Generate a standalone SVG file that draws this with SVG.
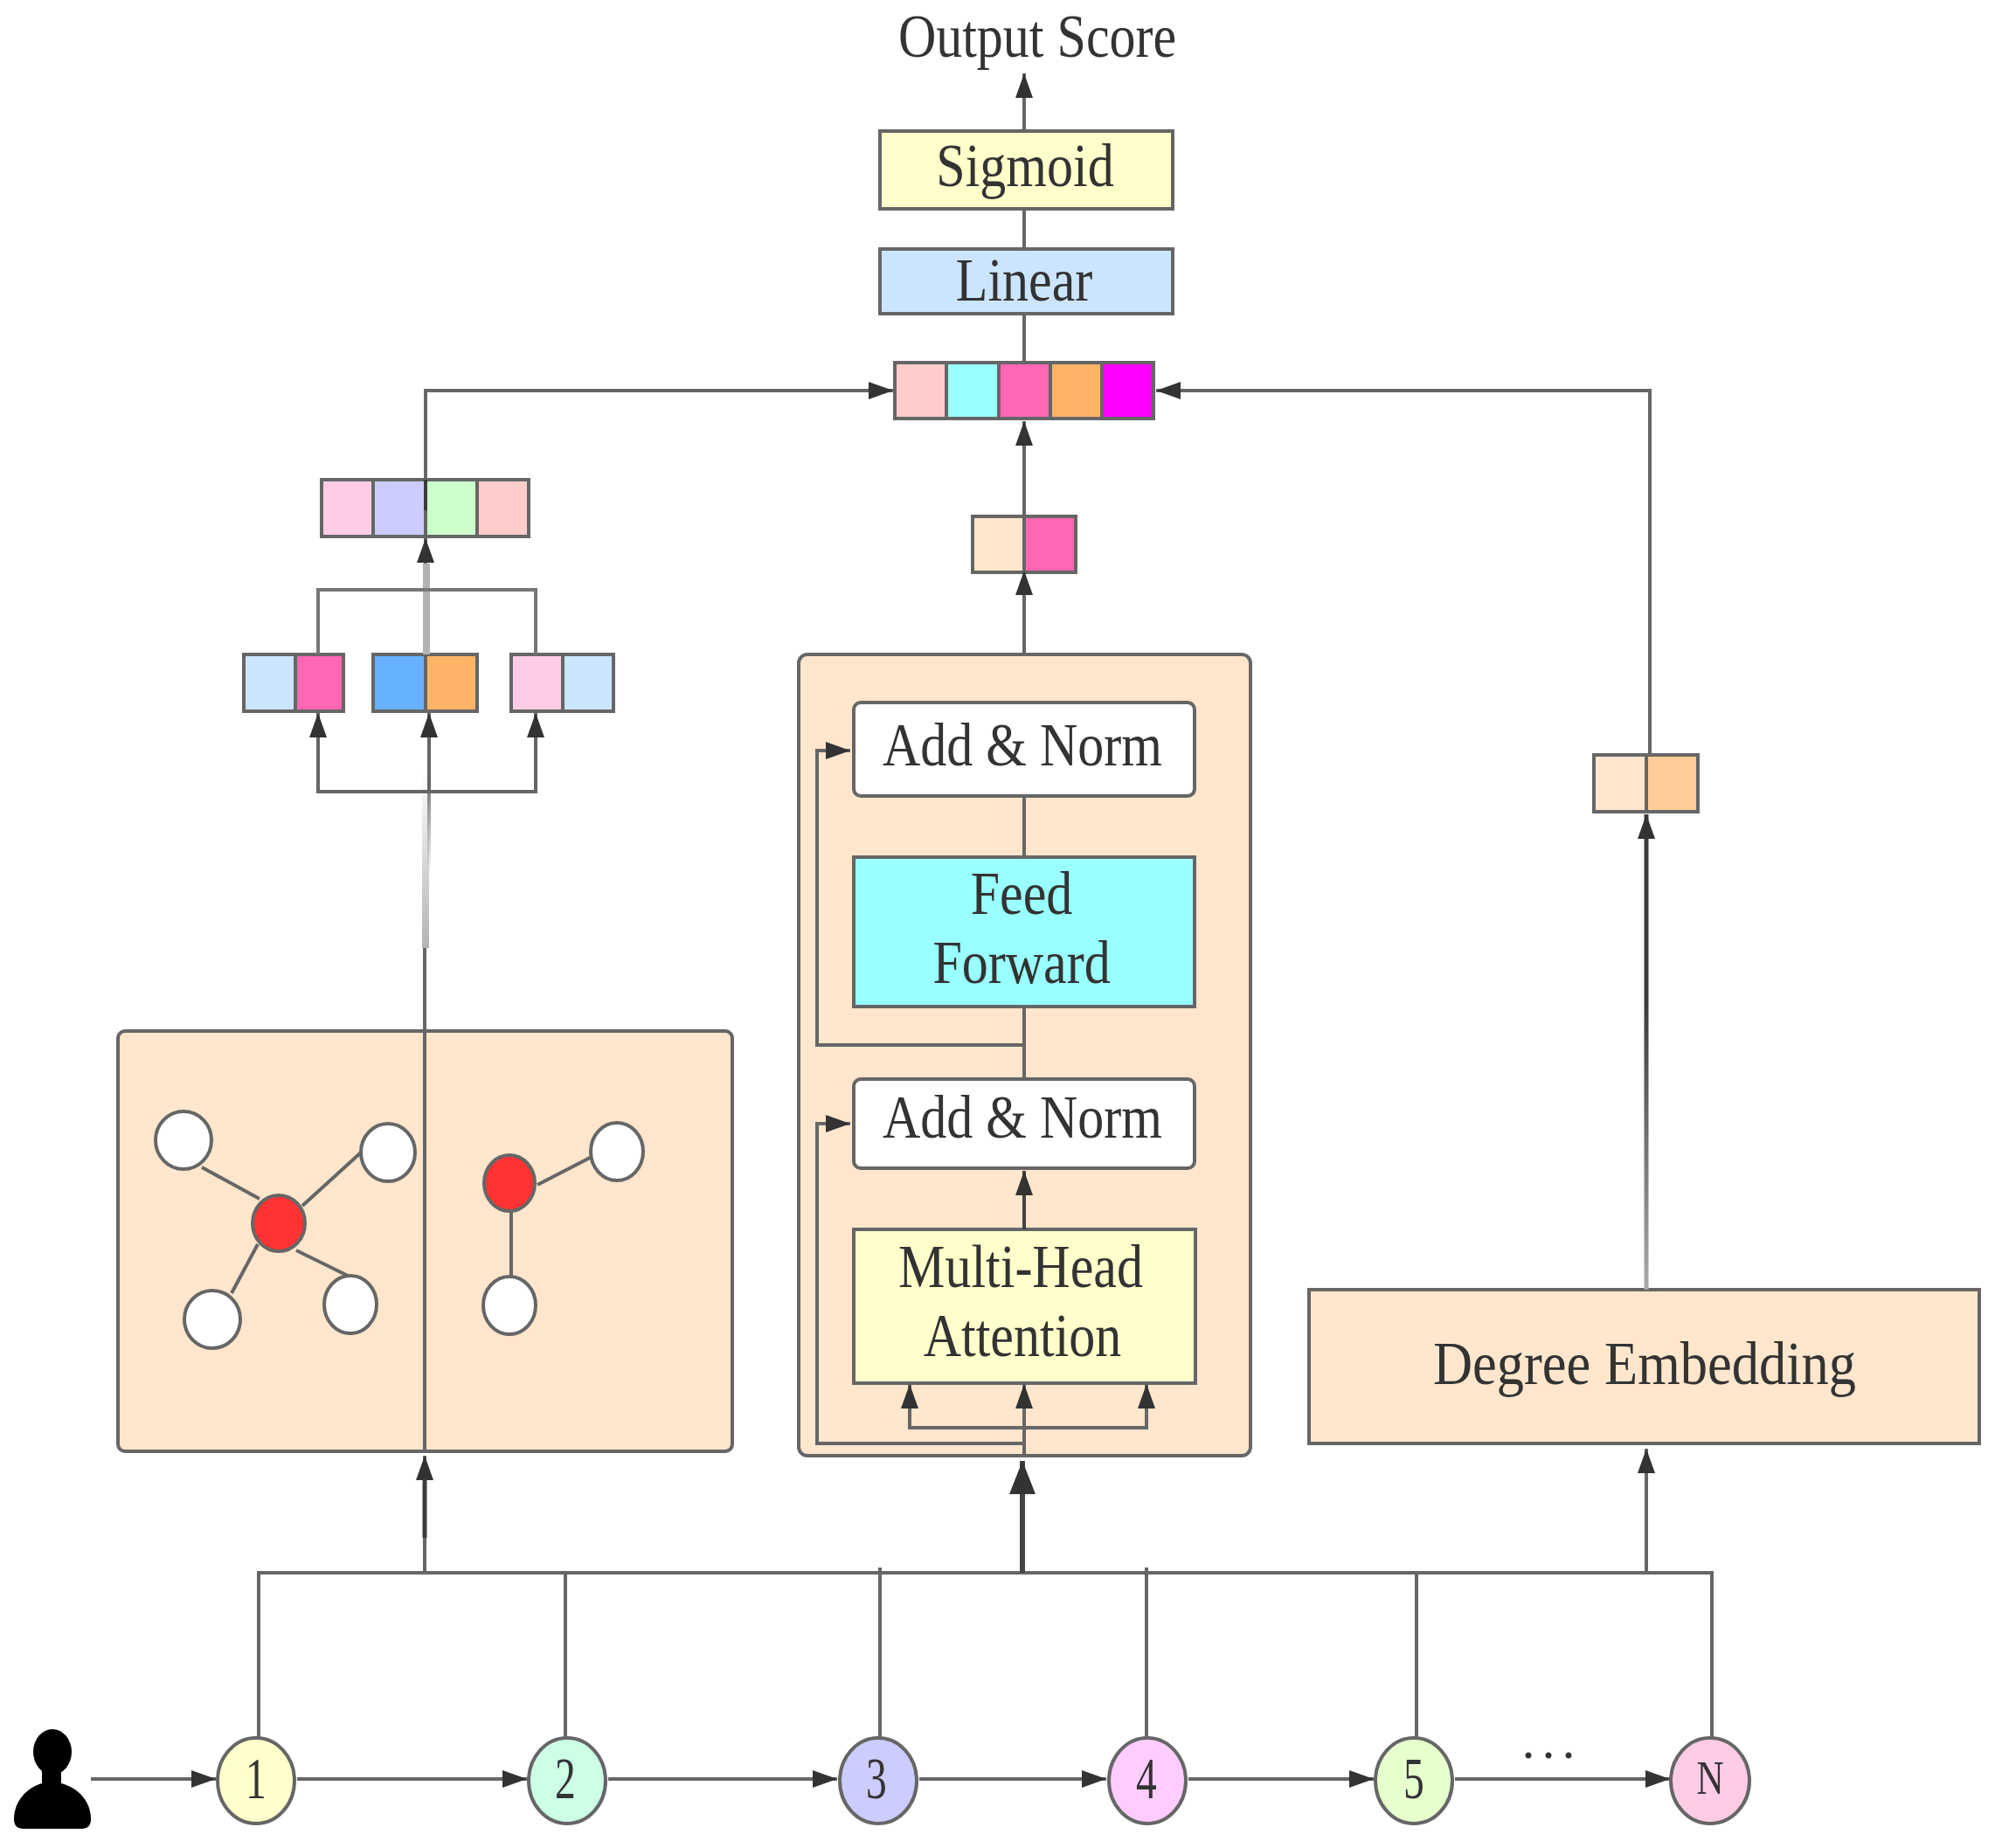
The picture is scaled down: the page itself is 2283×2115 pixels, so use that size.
<svg xmlns="http://www.w3.org/2000/svg" width="2283" height="2115" viewBox="0 0 2283 2115">
<style>
.b{stroke:#666;stroke-width:4}
.t{font-family:"Liberation Serif","Times New Roman",serif;font-size:60px;fill:#333;text-anchor:middle}
.d{font-family:"Liberation Serif","Times New Roman",serif;font-size:66px;fill:#333;text-anchor:middle}
.c{fill:none;stroke:#666;stroke-width:4}
.w{fill:#fff;stroke:#666;stroke-width:4}
.r{fill:#f33;stroke:#666;stroke-width:4}
</style>
<defs>
<marker id="a" markerUnits="userSpaceOnUse" markerWidth="30" markerHeight="22" refX="28" refY="11" orient="auto"><path d="M0 1L28 11L0 21Z" fill="#333"/></marker>
<marker id="big" markerUnits="userSpaceOnUse" markerWidth="40" markerHeight="32" refX="38" refY="16" orient="auto"><path d="M0 1L38 16L0 31Z" fill="#333"/></marker>
<linearGradient id="deg" gradientUnits="userSpaceOnUse" x1="0" y1="1476" x2="0" y2="1150"><stop offset="0" stop-color="#aaa"/><stop offset="1" stop-color="#3c3c3c"/></linearGradient>
<linearGradient id="fade1" gradientUnits="userSpaceOnUse" x1="0" y1="880" x2="0" y2="1085"><stop offset="0" stop-color="#b3b3b3" stop-opacity="0"/><stop offset="1" stop-color="#b3b3b3"/></linearGradient>
<linearGradient id="fade2" gradientUnits="userSpaceOnUse" x1="0" y1="880" x2="0" y2="1000"><stop offset="0" stop-color="#666"/><stop offset="1" stop-color="#666" stop-opacity="0"/></linearGradient>
</defs>
<rect width="2283" height="2115" fill="#fff"/>

<g id="panel-graph"><rect x="135" y="1180" width="703" height="481" rx="8" fill="#FFE6CC" class="b"/></g>
<g id="panel-transformer"><rect x="914" y="749" width="517" height="917" rx="10" fill="#FFE6CC" class="b"/></g>

<g id="output-score"><text class="t" transform="translate(1187 65) scale(1 1.15)">Output Score</text></g>
<g id="sigmoid"><rect x="1007" y="150" width="335" height="89" fill="#FFFFCC" class="b"/><text class="t" transform="translate(1173 213) scale(1 1.15)">Sigmoid</text></g>
<g id="linear"><rect x="1007" y="285" width="335" height="74" fill="#CCE5FF" class="b"/><text class="t" transform="translate(1172 344) scale(1 1.15)">Linear</text></g>
<g id="concat-output">
<rect x="1024" y="415" width="59" height="64" fill="#FFCCCC" class="b"/><rect x="1083" y="415" width="60" height="64" fill="#99FFFF" class="b"/><rect x="1143" y="415" width="59" height="64" fill="#FF66B3" class="b"/><rect x="1202" y="415" width="59" height="64" fill="#FFB366" class="b"/><rect x="1261" y="415" width="59" height="64" fill="#FF00FF" class="b"/>
</g>
<g id="concat-graph">
<rect x="368" y="549" width="59" height="65" fill="#FFCCE6" class="b"/><rect x="427" y="549" width="60" height="65" fill="#CCCCFF" class="b"/><rect x="487" y="549" width="59" height="65" fill="#CCFFCC" class="b"/><rect x="546" y="549" width="59" height="65" fill="#FFCCCC" class="b"/>
</g>
<g id="pair-a"><rect x="279" y="749" width="59" height="65" fill="#CCE5FF" class="b"/><rect x="338" y="749" width="55" height="65" fill="#FF66B3" class="b"/></g>
<g id="pair-b"><rect x="427" y="749" width="60" height="65" fill="#66B2FF" class="b"/><rect x="487" y="749" width="59" height="65" fill="#FFB366" class="b"/></g>
<g id="pair-c"><rect x="585" y="749" width="59" height="65" fill="#FFCCE6" class="b"/><rect x="644" y="749" width="58" height="65" fill="#CCE5FF" class="b"/></g>
<g id="pair-transformer"><rect x="1113" y="591" width="59" height="64" fill="#FFE6CC" class="b"/><rect x="1172" y="591" width="59" height="64" fill="#FF66B3" class="b"/></g>
<g id="pair-degree"><rect x="1824" y="864" width="60" height="65" fill="#FFE6CC" class="b"/><rect x="1884" y="864" width="59" height="65" fill="#FFCC99" class="b"/></g>

<g id="add-norm-top"><rect x="977" y="804" width="390" height="107" rx="8" fill="#fff" class="b"/><text class="t" transform="translate(1170 876) scale(1 1.15)">Add &amp; Norm</text></g>
<g id="feed-forward"><rect x="977" y="981" width="390" height="171" fill="#99FFFF" class="b"/><text class="t" transform="translate(1169 1046) scale(1 1.15)">Feed</text><text class="t" transform="translate(1169 1125) scale(1 1.15)">Forward</text></g>
<g id="add-norm-bottom"><rect x="977" y="1235" width="390" height="102" rx="8" fill="#fff" class="b"/><text class="t" transform="translate(1170 1302) scale(1 1.15)">Add &amp; Norm</text></g>
<g id="multi-head"><rect x="977" y="1407" width="391" height="176" fill="#FFFFCC" class="b"/><text class="t" transform="translate(1168 1473) scale(1 1.15)">Multi-Head</text><text class="t" transform="translate(1170 1552) scale(1 1.15)">Attention</text></g>
<g id="degree-embedding"><rect x="1498" y="1476" width="767" height="176" fill="#FFE6CC" class="b"/><text class="t" style="font-size:62.5px" transform="translate(1882 1584) scale(1 1.1)">Degree Embedding</text></g>

<g id="graph-nodes">
<ellipse cx="210" cy="1305" rx="32" ry="33" class="w"/><ellipse cx="444" cy="1319" rx="31" ry="33" class="w"/><ellipse cx="319" cy="1400" rx="30" ry="32" class="r"/><ellipse cx="243" cy="1510" rx="32" ry="33" class="w"/><ellipse cx="401" cy="1493" rx="30" ry="33" class="w"/><ellipse cx="583" cy="1354" rx="29" ry="32" class="r"/><ellipse cx="706" cy="1318" rx="30" ry="33" class="w"/><ellipse cx="583" cy="1494" rx="30" ry="33" class="w"/>
</g>

<g id="user"><ellipse cx="60" cy="2005" rx="22" ry="26" fill="#000"/><rect x="48" y="2024" width="22" height="22" fill="#000"/><path d="M16 2082C16 2062 30 2046 48 2041H70C90 2046 104 2062 104 2082Q104 2093 93 2093H27Q16 2093 16 2082Z" fill="#000"/></g>
<g id="item-1"><ellipse cx="293" cy="2038" rx="44" ry="49" fill="#FFFFCC" class="b"/><text class="d" transform="translate(293 2058) scale(.72 1.03)">1</text></g>
<g id="item-2"><ellipse cx="649" cy="2038" rx="44" ry="49" fill="#CCFFE6" class="b"/><text class="d" transform="translate(647 2058) scale(.72 1.03)">2</text></g>
<g id="item-3"><ellipse cx="1005" cy="2038" rx="44" ry="49" fill="#CCCCFF" class="b"/><text class="d" transform="translate(1003 2058) scale(.72 1.03)">3</text></g>
<g id="item-4"><ellipse cx="1313" cy="2038" rx="44" ry="49" fill="#FFCCFF" class="b"/><text class="d" transform="translate(1312 2058) scale(.72 1.03)">4</text></g>
<g id="item-5"><ellipse cx="1618" cy="2038" rx="44" ry="49" fill="#E6FFCC" class="b"/><text class="d" transform="translate(1618 2058) scale(.72 1.03)">5</text></g>
<g id="item-n"><ellipse cx="1957" cy="2038" rx="45" ry="49" fill="#FFCCE6" class="b"/><text class="d" style="font-size:54px" transform="translate(1957 2053) scale(.8 1.03)">N</text></g>
<g id="ellipsis"><text class="t" style="letter-spacing:8px" x="1776" y="2012">...</text></g>

<g id="connectors">
<path class="c" d="M296 1988V1800H1959V1988"/>
<path class="c" d="M647 1800V1988M1007 1794V1988M1312 1794V1988M1621 1800V1988"/>
<path d="M486 1800V1666" class="c" marker-end="url(#a)"/>
<path d="M486 1692V1760" fill="none" stroke="#3c3c3c" stroke-width="5"/>
<path d="M486 1661V1085" class="c"/>
<path d="M487 1085V880" fill="none" stroke="url(#fade1)" stroke-width="8"/>
<path d="M488 749V645" fill="none" stroke="#b3b3b3" stroke-width="8"/>
<path d="M487 645V616" class="c" marker-end="url(#a)"/>
<path d="M491 1000V880" fill="none" stroke="url(#fade2)" stroke-width="4"/>
<path d="M364 816V906H613V816" class="c" marker-end="url(#a)"/>
<path d="M364 906V816" class="c" marker-end="url(#a)"/>
<path d="M491 906V816" class="c" marker-end="url(#a)"/>
<path d="M364 749V675H613V749" fill="none" stroke="#777" stroke-width="4"/>
<path d="M487 584V447H1022" class="c" marker-end="url(#a)"/>
<path d="M487 549V584" fill="none" stroke="#3c3c3c" stroke-width="4"/>
<path d="M1888 864V447H1323" class="c" marker-end="url(#a)"/>
<path d="M1172 150V84" class="c" marker-end="url(#a)"/>
<path d="M1172 285V239M1172 415V359" class="c"/>
<path d="M1172 591V482" class="c" marker-end="url(#a)"/>
<path d="M1172 749V653" class="c" marker-end="url(#a)"/>
<path d="M1172 981V911M1172 1235V1152" class="c"/>
<path d="M1172 1196H935V859H973" class="c" marker-end="url(#a)"/>
<path d="M1172 1652H935V1286H973" class="c" marker-end="url(#a)"/>
<path d="M1172 1407V1340" fill="none" stroke="#444" stroke-width="4" marker-end="url(#a)"/>
<path d="M1172 1666V1584" class="c" marker-end="url(#a)"/>
<path d="M1041 1584V1634H1312V1584" class="c" marker-end="url(#a)"/>
<path d="M1041 1634V1584" class="c" marker-end="url(#a)"/>
<path d="M1170 1800V1672" fill="none" stroke="#444" stroke-width="6" marker-end="url(#big)"/>
<path d="M1884 1800V1658" class="c" marker-end="url(#a)"/>
<path d="M1884 1476V932" fill="none" stroke="url(#deg)" stroke-width="5" marker-end="url(#a)"/>
<path d="M104 2036H247" class="c" marker-end="url(#a)"/>
<path d="M340 2036H603" class="c" marker-end="url(#a)"/>
<path d="M696 2036H958" class="c" marker-end="url(#a)"/>
<path d="M1052 2036H1266" class="c" marker-end="url(#a)"/>
<path d="M1360 2036H1572" class="c" marker-end="url(#a)"/>
<path d="M1665 2036H1911" class="c" marker-end="url(#a)"/>
<path class="c" d="M231 1336L297 1372M413 1319L346 1380M295 1424L265 1480M339 1431L398 1460M615 1356L677 1324M585 1386V1462"/>
</g>
</svg>
